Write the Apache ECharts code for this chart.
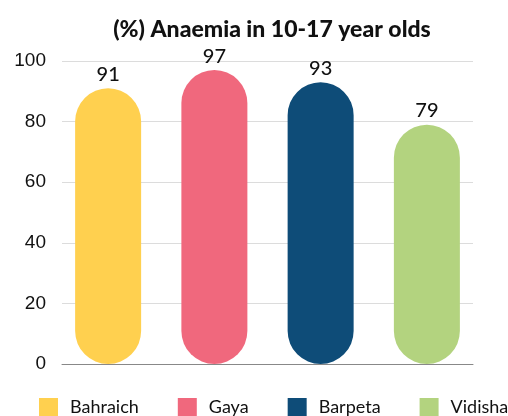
<!DOCTYPE html>
<html>
<head>
<meta charset="utf-8">
<script src="https://cdn.jsdelivr.net/npm/echarts@6/dist/echarts.min.js"></script>
<style>
  html, body { margin: 0; padding: 0; background: #fff; }
  #chart_anaemia { width: 508px; height: 416px; }
</style>
</head>
<body>
<div id="chart_anaemia"></div>
<script>
const districts = ['Bahraich', 'Gaya', 'Barpeta', 'Vidisha'];
const anaemiaPct = [91, 97, 93, 79];
const barColors = ['#FFD04F', '#F0687D', '#0E4C78', '#B3D37F'];
const yTicks = [0, 20, 40, 60, 80, 100];

const labelFont = 'Lato, "DejaVu Sans", sans-serif';

function getOptionAnaemia() {
    // one series per district so each gets a legend entry; stacked so they share a slot
    const series = districts.map((name, i) => ({
        name: name,
        type: 'bar',
        stack: 'all',
        xAxisIndex: 1,
        yAxisIndex: 1,
        barWidth: 66,
        itemStyle: { color: barColors[i], borderRadius: 33 },
        label: {
            show: true,
            position: 'top',
            distance: 4,
            color: '#111',
            fontFamily: labelFont,
            fontWeight: 500,
            fontSize: 20
        },
        emphasis: { disabled: true },
        data: districts.map((d, j) => (j === i ? anaemiaPct[i] : null))
    }));

    return {
        backgroundColor: '#fff',
        animation: false,
        title: {
            text: '(%) Anaemia in 10-17 year olds',
            left: 267,
            textAlign: 'center',
            top: 13,
            textStyle: {
                fontFamily: labelFont,
                fontWeight: 900,
                fontSize: 23,
                color: '#111'
            }
        },
        legend: {
            left: 39,
            top: 398,
            width: 600,
            padding: 0,
            itemWidth: 19,
            itemHeight: 19,
            itemGap: 39,
            icon: 'rect',
            textStyle: {
                fontFamily: labelFont,
                fontSize: 18,
                color: '#111',
                padding: [0, 0, 0, 7]
            },
            data: districts
        },
        grid: [
            // axis + gridlines
            { left: 62, right: 35, top: 61, bottom: 52 },
            // bars
            { left: 55, right: 28, top: 61, bottom: 52 }
        ],
        xAxis: [
            {
                type: 'category',
                gridIndex: 0,
                data: districts,
                axisLine: { show: true, lineStyle: { color: '#888', width: 1 } },
                axisTick: { show: false },
                axisLabel: { show: false }
            },
            {
                type: 'category',
                gridIndex: 1,
                data: districts,
                axisLine: { show: false },
                axisTick: { show: false },
                axisLabel: { show: false }
            }
        ],
        yAxis: [
            {
                type: 'value',
                gridIndex: 0,
                min: yTicks[0],
                max: yTicks[yTicks.length - 1],
                interval: 20,
                axisLine: { show: false },
                axisTick: { show: false },
                axisLabel: {
                    margin: 16,
                    fontFamily: '"Liberation Sans", Arial, sans-serif',
                    fontSize: 19,
                    color: '#111'
                },
                splitLine: { lineStyle: { color: '#dcdcdc', width: 1 } }
            },
            {
                type: 'value',
                gridIndex: 1,
                min: yTicks[0],
                max: yTicks[yTicks.length - 1],
                interval: 20,
                axisLine: { show: false },
                axisTick: { show: false },
                axisLabel: { show: false },
                splitLine: { show: false }
            }
        ],
        series: series
    };
}

const chart = echarts.init(document.getElementById('chart_anaemia'), null, { renderer: 'canvas' });
chart.setOption(getOptionAnaemia());
</script>
</body>
</html>
